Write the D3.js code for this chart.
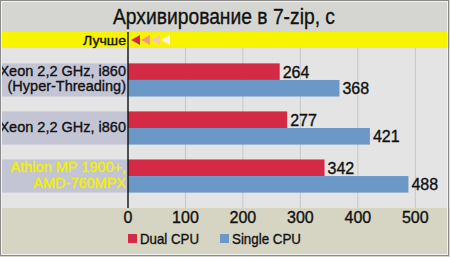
<!DOCTYPE html>
<html>
<head>
<meta charset="utf-8">
<script src="https://cdn.jsdelivr.net/npm/d3@7"></script>
<style>
  html, body { margin: 0; padding: 0; background: #fff; }
  svg text { font-family: "Liberation Sans", Arial, sans-serif; stroke-width: 0.35px; }
</style>
</head>
<body>
<svg id="chart" width="450" height="257"></svg>
<script>
var title = "Архивирование в 7-zip, с";
var betterLabel = "Лучше";
var categories = ["Xeon 2,2 GHz, i860\n(Hyper-Threading)", "Xeon 2,2 GHz, i860", "Athlon MP 1900+,\nAMD-760MPX"];
var seriesNames = ["Dual CPU", "Single CPU"];
var dualCpu = [264, 277, 342];
var singleCpu = [368, 421, 488];
var xTicks = [0, 100, 200, 300, 400, 500];
var arrowColors = ["#d62a42", "#ef9a86", "#f6c4bc", "#fdeeee"];

var svg = d3.select("#chart"),
    width = +svg.attr("width"),
    height = +svg.attr("height"),
    colors = ["#d42a46", "#6b98c7"];

var x = d3.scaleLinear().domain([0, 500]).range([128, 415.3]);
var y = d3.scaleBand().domain(categories).range([48, 208]).paddingInner(0.31).paddingOuter(0.32);
var ySub = d3.scaleBand().domain(seriesNames).range([0, y.bandwidth()]);

// backgrounds
svg.append("rect").attr("x", 0).attr("y", 0).attr("width", width).attr("height", 32).attr("fill", "#d5d6d2");
svg.append("rect").attr("x", 0).attr("y", 32).attr("width", width).attr("height", 16).attr("fill", "#f8f400");
svg.append("rect").attr("x", 0).attr("y", 48).attr("width", width).attr("height", 160).attr("fill", "#e4e4e4");
svg.append("rect").attr("x", 0).attr("y", 208).attr("width", width).attr("height", 49).attr("fill", "#d6d4c2");

svg.append("text")
    .attr("x", 113).attr("y", 24)
    .attr("font-size", 22.5)
    .attr("textLength", 222)
    .attr("lengthAdjust", "spacingAndGlyphs")
    .attr("fill", "#111").attr("stroke", "#111")
    .text(title);

// label bands
svg.selectAll(".band").data(categories).enter().append("rect")
    .attr("x", 2).attr("y", function (d) { return y(d); })
    .attr("width", x(0) - 2).attr("height", y.bandwidth())
    .attr("fill", "#c3c4d4");

// grid
svg.selectAll(".grid").data(xTicks.slice(1)).enter().append("line")
    .attr("x1", function (d) { return x(d); }).attr("x2", function (d) { return x(d); })
    .attr("y1", 48).attr("y2", 208)
    .attr("stroke", "#c6c6c6").attr("stroke-width", 1);

// bars
var rows = categories.map(function (c, i) { return { cat: c, values: [dualCpu[i], singleCpu[i]] }; });
var group = svg.selectAll(".grp").data(rows).enter().append("g")
    .attr("transform", function (d) { return "translate(0," + y(d.cat) + ")"; });

group.selectAll("rect").data(function (d) { return d.values; }).enter().append("rect")
    .attr("x", x(0))
    .attr("y", function (d, i) { return ySub(seriesNames[i]); })
    .attr("width", function (d) { return x(d) - x(0); })
    .attr("height", ySub.bandwidth())
    .attr("fill", function (d, i) { return colors[i]; });

group.selectAll(".val").data(function (d) { return d.values; }).enter().append("text")
    .attr("x", function (d) { return x(d) + 3; })
    .attr("y", function (d, i) { return ySub(seriesNames[i]) + ySub.bandwidth() / 2 + 6; })
    .attr("font-size", 16)
    .attr("fill", "#111").attr("stroke", "#111")
    .text(function (d) { return d; });

// category labels
group.each(function (d, i) {
    var lines = d.cat.split("\n");
    var mid = y.bandwidth() / 2;
    var c = i == 2 ? "#f4f000" : "#111";
    var t = d3.select(this).append("text")
        .attr("text-anchor", "end")
        .attr("font-size", 14.5)
        .attr("fill", c).attr("stroke", c);
    lines.forEach(function (l, k) {
        var base = lines.length == 1 ? mid + 4 : mid - 4 + k * 15.5;
        t.append("tspan").attr("x", 126).attr("y", base).text(l);
    });
});

// zero line
svg.append("line")
    .attr("x1", x(0)).attr("x2", x(0)).attr("y1", 32).attr("y2", 208)
    .attr("stroke", "#111").attr("stroke-width", 1.4);

// "better" marker
svg.append("text")
    .attr("x", 126).attr("y", 44.5)
    .attr("text-anchor", "end")
    .attr("font-size", 13.5)
    .attr("textLength", 43)
    .attr("lengthAdjust", "spacingAndGlyphs")
    .attr("fill", "#111").attr("stroke", "#111")
    .text(betterLabel);

svg.selectAll(".arrow").data(arrowColors).enter().append("path")
    .attr("d", function (d, i) {
        var x0 = 131 + i * 10;
        return "M" + x0 + ",40 L" + (x0 + 9) + ",35 L" + (x0 + 9) + ",45 Z";
    })
    .attr("fill", function (d) { return d; });

// axis labels
svg.selectAll(".tick").data(xTicks).enter().append("text")
    .attr("x", function (d) { return x(d); })
    .attr("y", 223)
    .attr("text-anchor", "middle")
    .attr("font-size", 16)
    .attr("fill", "#111").attr("stroke", "#111")
    .text(function (d) { return d; });

// legend
var legendX = [128, 220];
var leg = svg.selectAll(".leg").data(seriesNames).enter().append("g")
    .attr("transform", function (d, i) { return "translate(" + legendX[i] + ",234)"; });
leg.append("rect").attr("width", 9).attr("height", 9).attr("fill", function (d, i) { return colors[i]; });
leg.append("text").attr("x", 12).attr("y", 9.5).attr("font-size", 15)
    .attr("textLength", function (d, i) { return i == 0 ? 59 : 69; })
    .attr("lengthAdjust", "spacingAndGlyphs")
    .attr("fill", "#111").attr("stroke", "#111").text(function (d) { return d; });

// frame
svg.append("rect").attr("x", 0.5).attr("y", 0.5).attr("width", 448).attr("height", 255)
    .attr("fill", "none").attr("stroke", "#8a8a8a");
svg.append("rect").attr("x", 1.5).attr("y", 1.5).attr("width", 446).attr("height", 253)
    .attr("fill", "none").attr("stroke", "#f2f2f2");
</script>
</body>
</html>
